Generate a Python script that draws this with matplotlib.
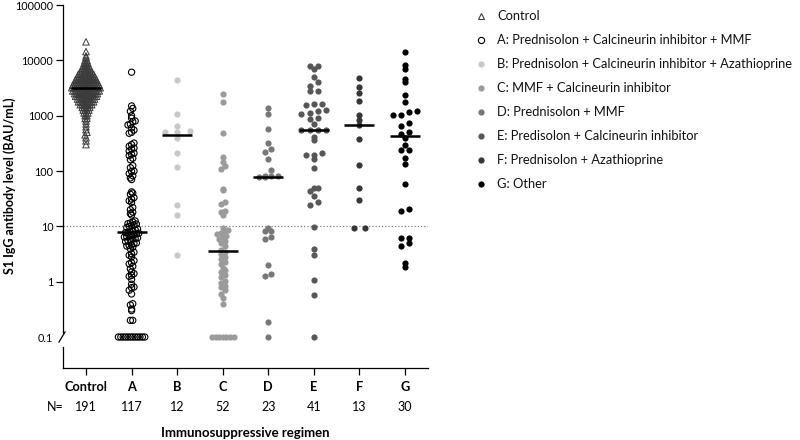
import numpy as np
import matplotlib
matplotlib.use('Agg')
import matplotlib.pyplot as plt
from matplotlib.lines import Line2D
from matplotlib.ticker import NullLocator

plt.rcParams['font.family'] = ['Lato', 'DejaVu Sans']

# ---------------------------------------------------------------------------
# Data (BAU/mL)
# ---------------------------------------------------------------------------
groups = ['Control', 'A', 'B', 'C', 'D', 'E', 'F', 'G']
n_labels = ['191', '117', '12', '52', '23', '41', '13', '30']

# control group is dense, so it is kept as levels + how many points sit there
control_levels = [21600, 14400, 12000, 11200, 10000, 8900, 7900, 7100, 6300,
                  5600, 5000, 4500, 4000, 3550, 3200, 2800, 2500, 2240, 2000,
                  1780, 1580, 1410, 1260, 1120, 1000, 890, 800, 710, 630, 560,
                  500, 450, 400, 350, 300]
control_counts = [1, 1, 1, 1, 2, 3, 4, 5, 7, 9, 10, 12, 13, 15, 16, 15, 13,
                  12, 10, 9, 7, 5, 4, 3, 2, 2, 1, 1, 1, 1, 1, 1, 1, 1, 1]

a_vals = [6100, 1500, 1350, 1200, 1000, 900, 800, 780, 700, 680, 600, 550,
          500, 480, 320, 300, 280, 260, 250, 230, 210, 200, 190, 170, 160,
          125, 115, 100, 98, 90, 82, 75, 70, 42, 40, 38, 33, 31, 29, 27, 22,
          20, 18, 17, 16, 12.5, 12, 11.5, 11.2, 11, 10.5, 10.2, 10, 9.5, 9,
          8.7, 8.4, 8.0, 7.8, 7.7, 7.5, 7.3, 7.1, 6.9, 6.7, 6.5, 6.4, 6.2,
          6.0, 5.9, 5.7, 5.5, 5.3, 5.0, 4.9, 4.6, 4.5, 4.4, 4.2, 3.9, 3.4,
          3.2, 3.0, 2.8, 2.4, 2.2, 2.1, 1.9, 1.7, 1.5, 1.4, 1.3, 1.25, 1.1,
          0.9, 0.8, 0.78, 0.7, 0.6, 0.4, 0.38, 0.32, 0.3, 0.2, 0.2,
          0.1, 0.1, 0.1, 0.1, 0.1, 0.1, 0.1, 0.1, 0.1, 0.1, 0.1, 0.1]
b_vals = [4400, 1080, 640, 520, 510, 500, 390, 210, 118, 24, 16, 3]
c_vals = [2500, 1800, 490, 180, 145, 125, 108, 48, 45, 27, 25, 19, 18, 16,
          9.5, 8.5, 8, 7.6, 7.2, 6.8, 6.5, 6, 5.5, 5, 4.5, 3.8,
          3.4, 3.1, 2.8, 2.6, 2.3, 2.1, 1.8, 1.6, 1.5, 1.3, 1.2, 1.05, 0.95,
          0.85, 0.8, 0.7, 0.6, 0.5, 0.4, 0.1, 0.1, 0.1, 0.1, 0.1, 0.1, 0.1]
d_vals = [1400, 1065, 570, 318, 255, 225, 164, 104, 82, 80, 80, 79, 78, 9.2,
          8.3, 8.3, 6.3, 5.8, 2.0, 1.38, 1.28, 0.19, 0.1]
e_vals = [7900, 7800, 6900, 5020, 3980, 3450, 2800, 2750, 1620, 1600, 1580,
          1260, 1240, 1100, 1090, 890, 880, 720, 560, 560, 558, 555, 405, 360,
          215, 195, 192, 164, 113, 50, 49, 44, 36, 28, 24.5, 9.9, 3.9, 3.0,
          1.07, 0.575, 0.1]
f_vals = [4760, 3300, 2520, 1850, 1030, 830, 683, 377, 130, 50, 30, 9.5, 9.5]
g_vals = [14350, 8260, 6900, 4560, 4060, 2350, 1740, 1200, 1180, 1020, 1020,
          745, 655, 510, 470, 403, 300, 241, 241, 175, 133, 58, 20.5, 18.6,
          6.2, 6.2, 4.9, 4.47, 2.2, 1.81]

legend_labels = ['Control',
                 'A: Prednisolon + Calcineurin inhibitor + MMF',
                 'B: Prednisolon + Calcineurin inhibitor + Azathioprine',
                 'C: MMF + Calcineurin inhibitor',
                 'D: Prednisolon + MMF',
                 'E: Predisolon + Calcineurin inhibitor',
                 'F: Prednisolon + Azathioprine',
                 'G: Other']

# ---------------------------------------------------------------------------
# Styles
# ---------------------------------------------------------------------------
fills = ['none', 'none', '#c8c8c8', '#9b9b9b', '#777777', '#575757',
         '#363636', '#000000']
edges = ['#3c3c3c', '#000000', '#c8c8c8', '#9b9b9b', '#777777', '#575757',
         '#363636', '#000000']
markers = ['^', 'o', 'o', 'o', 'o', 'o', 'o', 'o']
sizes = [22, 20, 20, 20, 20, 20, 20, 20]
# row height and horizontal spacing for the column scatter [px]
row_h = [2.7, 4.5, 6.0, 5.0, 6.0, 6.0, 6.0, 6.0]
step = [1.9, 2.4, 12.5, 3.6, 6.3, 8.3, 11.0, 8.0]


def row_offsets(ypix, h, s):
    """Prism-like column scatter: bin by height, centre each row."""
    bins = np.floor(ypix / h).astype(int)
    off = np.zeros(len(ypix))
    for b in np.unique(bins):
        idx = np.where(bins == b)[0]
        idx = idx[np.argsort(ypix[idx])]
        n = len(idx)
        off[idx] = (np.arange(n) - (n - 1) / 2) * s
    return off


W, H = 800, 440
fig = plt.figure(figsize=(W / 100, H / 100), dpi=100)
ax = fig.add_axes([63 / W, 72 / H, 365 / W, 363 / H])
ax.set_yscale('log')
ax.set_xlim(-0.505, 7.505)
ax.set_ylim(10 ** -1.56, 1e5)

all_vals = [np.repeat(control_levels, control_counts), a_vals, b_vals,
            c_vals, d_vals, e_vals, f_vals, g_vals]

px_per_x = ax.transData.transform((1, 1))[0] - ax.transData.transform((0, 1))[0]

for i, vals in enumerate(all_vals):
    vals = np.asarray(vals, dtype=float)
    ypix = ax.transData.transform(np.column_stack([np.full(len(vals), i), vals]))[:, 1]
    xs = i + row_offsets(ypix, row_h[i], step[i]) / px_per_x
    lw = 0.7 if i == 0 else (0.8 if i == 1 else 0)
    ax.scatter(xs, vals, s=sizes[i], marker=markers[i], facecolors=fills[i],
               edgecolors=edges[i], linewidths=lw, zorder=3)
    ax.hlines(np.median(vals), i - 0.33, i + 0.33, color='black', lw=1.8,
              zorder=4)

ax.axhline(10, color='#808080', lw=0.9, ls=(0, (1, 1.6)), zorder=1)

# axes
for sp in ['top', 'right', 'left']:
    ax.spines[sp].set_visible(False)
ax.spines['bottom'].set_linewidth(0.9)

yt = [0.1, 1, 10, 100, 1000, 10000, 100000]
ax.set_yticks(yt)
ax.set_yticklabels(['0.1', '1', '10', '100', '1000', '10000', '100000'],
                   fontsize=7.8)
ax.yaxis.set_minor_locator(NullLocator())
ax.yaxis.get_major_ticks()[0].tick1line.set_visible(False)
ax.tick_params(axis='y', length=5, width=0.9, pad=2, color='black')
ax.set_xticks(range(len(groups)))
ax.set_xticklabels(groups, fontsize=9.2, fontweight='bold')
ax.tick_params(axis='x', length=5, width=0.9, pad=4)

# broken left axis
y_fr = lambda ypx: (368 - ypx) / 363
x_fr = lambda xpx: (xpx - 63) / 365
ax.add_line(Line2D([0, 0], [y_fr(333), 1], transform=ax.transAxes,
                   color='black', lw=0.9, clip_on=False))
ax.add_line(Line2D([x_fr(59), x_fr(65)], [y_fr(342), y_fr(332)],
                   transform=ax.transAxes, color='black', lw=0.9,
                   clip_on=False))
ax.add_line(Line2D([0, 0], [0, y_fr(347)], transform=ax.transAxes,
                   color='black', lw=0.9, clip_on=False))

# N row
trans = ax.get_xaxis_transform()
ax.text(-0.68, y_fr(407), 'N=', transform=trans, ha='center', va='center',
        fontsize=9)
for i, n in enumerate(n_labels):
    ax.text(i, y_fr(407), n, transform=trans, ha='center', va='center',
            fontsize=9)

ax.text(0.5, y_fr(433), 'Immunosuppressive regimen', transform=ax.transAxes,
        ha='center', va='center', fontsize=9.5, fontweight='bold')
fig.text(10 / W, 1 - 186 / H, 'S1 IgG antibody level (BAU/mL)', rotation=90,
         ha='center', va='center', fontsize=9, fontweight='bold')

# legend
for k, lab in enumerate(legend_labels):
    yy = 1 - (16 + 24 * k) / H
    fig.add_artist(Line2D([481 / W], [yy], marker=markers[k], markersize=4.5,
                          markerfacecolor=fills[k], markeredgecolor=edges[k],
                          markeredgewidth=0.8 if k < 2 else 0, ls='none'))
    fig.text(497 / W, yy, lab, ha='left', va='center', fontsize=9.3,
             color='#111111')

fig.savefig('out.png', dpi=100, facecolor='white')
